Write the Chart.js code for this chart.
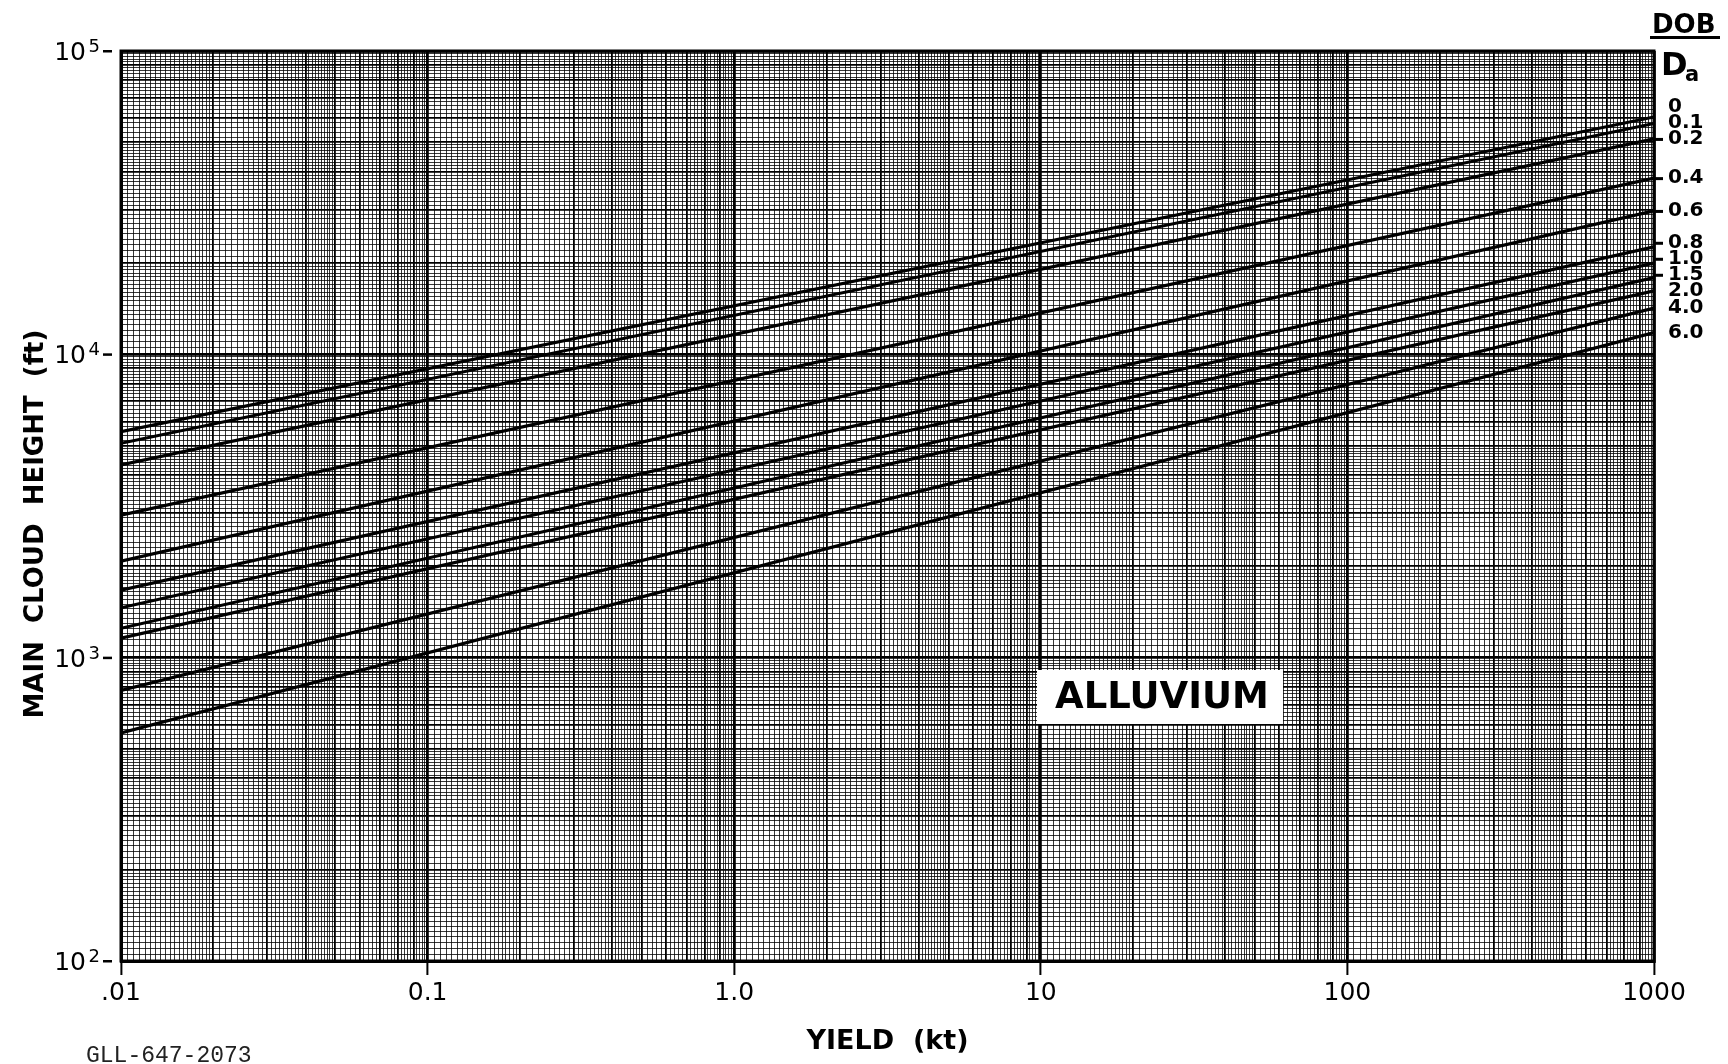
<!DOCTYPE html>
<html><head><meta charset="utf-8">
<script src="https://cdn.jsdelivr.net/npm/chart.js@4.4.1/dist/chart.umd.min.js"></script>
<style>html,body{margin:0;padding:0;background:#fff;overflow:hidden}canvas{display:block}</style>
</head><body>
<canvas id="c" width="1728" height="1064"></canvas>
<script>
// ---- data ----
const dobRatios = ["0", "0.1", "0.2", "0.4", "0.6", "0.8", "1.0", "1.5", "2.0", "4.0", "6.0"];
const yieldEnds = [0.01, 1000];                       // kt
const heightAtLowYield  = [5560, 5090, 4320, 2950, 2080, 1670, 1460, 1250, 1160, 780, 565];      // ft at 0.01 kt
const heightAtHighYield = [60600, 57700, 51300, 38100, 29700, 22600, 20000, 17900, 16200, 14200, 11800]; // ft at 1000 kt
const leaderMark = [false, false, true, true, true, true, true, true, false, false, false];
const xTickLabels = {"0.01": ".01", "0.1": "0.1", "1": "1.0", "10": "10", "100": "100", "1000": "1000"};
const yDecades = [100, 1000, 10000, 100000];
const yDecadeExponents = ["2", "3", "4", "5"];

// ---- log graph-paper rulings ----
function paperTicks(minExp, maxExp) {
  const out = [];
  for (let k = minExp; k < maxExp; k++) {
    const b = Math.pow(10, k);
    const ms = [];
    for (let i = 100; i < 200; i += 5) ms.push(i);
    for (let i = 200; i < 500; i += 10) ms.push(i);
    for (let i = 500; i < 1000; i += 20) ms.push(i);
    ms.forEach(i => out.push(Number((i * b / 100).toPrecision(10))));
  }
  out.push(Math.pow(10, maxExp));
  return out.map(v => ({value: v}));
}
function ruleKind(v) {
  const lg = Math.log10(v);
  if (Math.abs(lg - Math.round(lg)) < 1e-9) return 'decade';
  const m = v / Math.pow(10, Math.floor(lg + 1e-9));
  if (Math.abs(m - Math.round(m)) < 1e-6) return 'unit';
  return 'fine';
}
const gridColor = ctx => {
  const t = ctx.tick; if (!t) return '#000';
  return ruleKind(t.value) === 'fine' ? 'rgba(0,0,0,0.78)' : '#000';
};
const gridWidth = ctx => {
  const t = ctx.tick; if (!t) return 1;
  const k = ruleKind(t.value);
  return k === 'decade' ? 2.8 : (k === 'unit' ? 1.8 : 1);
};

const datasets = dobRatios.map((r, i) => ({
  label: r,
  data: [{x: yieldEnds[0], y: heightAtLowYield[i]}, {x: yieldEnds[1], y: heightAtHighYield[i]}],
  borderColor: '#000', borderWidth: 3.2, pointRadius: 0, tension: 0, fill: false
}));

const decor = {
  id: 'decor',
  afterDraw(chart) {
    const ctx = chart.ctx, ca = chart.chartArea, ys = chart.scales.y;
    ctx.save();
    // frame
    ctx.strokeStyle = '#000'; ctx.lineWidth = 3;
    ctx.strokeRect(ca.left, ca.top, ca.right - ca.left, ca.bottom - ca.top);
    // y decade labels 10^n with tick dash
    ctx.fillStyle = '#000';
    ctx.textBaseline = 'alphabetic';
    yDecades.forEach((v, i) => {
      const y = ys.getPixelForValue(v);
      ctx.textAlign = 'right';
      ctx.font = '18px "DejaVu Sans"';
      ctx.fillText(yDecadeExponents[i], 100, y + 1);
      ctx.font = '25px "DejaVu Sans"';
      ctx.fillText('10', 86, y + 9);
      ctx.fillRect(103, y - 1, 9, 2.5);
    });
    // ALLUVIUM panel
    ctx.fillStyle = '#fff';
    ctx.fillRect(1037, 670, 246, 54);
    ctx.fillStyle = '#000';
    ctx.font = 'bold 37px "DejaVu Sans"';
    ctx.textAlign = 'center'; ctx.textBaseline = 'middle';
    ctx.fillText('ALLUVIUM', 1162, 698);
    // DOB / Da header
    ctx.textAlign = 'left'; ctx.textBaseline = 'alphabetic';
    ctx.font = 'bold 26px "DejaVu Sans"';
    ctx.fillText('DOB', 1652, 33);
    ctx.fillRect(1650, 36, 70, 3);
    ctx.font = 'bold 32px "DejaVu Sans"';
    ctx.fillText('D', 1661, 75);
    ctx.font = 'bold 21px "DejaVu Sans"';
    ctx.fillText('a', 1685, 81);
    // series labels at right end, spread to avoid overlap
    const pos = heightAtHighYield.map(v => ys.getPixelForValue(v));
    for (let i = pos.length - 2; i >= 0; i--) pos[i] = Math.min(pos[i], pos[i + 1] - 16);
    ctx.font = 'bold 20px "DejaVu Sans"';
    ctx.textBaseline = 'middle';
    dobRatios.forEach((r, i) => {
      ctx.fillText(r, 1668, pos[i]);
      if (leaderMark[i]) ctx.fillRect(1655, pos[i] - 1, 8, 3);
    });
    // drawing number
    ctx.font = '23px "Liberation Mono"';
    ctx.fillStyle = '#222';
    ctx.textBaseline = 'alphabetic';
    ctx.textAlign = 'left';
    ctx.fillText('GLL-647-2073', 86, 1062);
    ctx.restore();
  }
};

new Chart(document.getElementById('c'), {
  type: 'line',
  data: {datasets},
  options: {
    responsive: false, animation: false,
    layout: {padding: {left: 0, top: 51, right: 74, bottom: 0}},
    plugins: {legend: {display: false}, tooltip: {enabled: false}},
    scales: {
      x: {
        type: 'logarithmic', min: 0.01, max: 1000,
        afterBuildTicks: s => { s.ticks = paperTicks(-2, 3); },
        afterFit: s => { s.height = 103; },
        grid: {color: gridColor, lineWidth: gridWidth, drawTicks: true, tickLength: 14,
               tickColor: ctx => (ctx.tick && ruleKind(ctx.tick.value) === 'decade') ? '#000' : 'rgba(0,0,0,0)', tickWidth: 2},
        border: {display: true, color: '#000', width: 3},
        ticks: {autoSkip: false, maxRotation: 0, minRotation: 0, padding: 3, color: '#000',
                font: {family: 'DejaVu Sans', size: 25},
                callback: v => xTickLabels[String(v)] || ''},
        title: {display: true, text: 'YIELD  (kt)', color: '#000',
                font: {family: 'DejaVu Sans', size: 27, weight: 'bold', lineHeight: 1}, padding: {top: 0, bottom: 9}}
      },
      y: {
        type: 'logarithmic', min: 100, max: 100000,
        afterBuildTicks: s => { s.ticks = paperTicks(2, 5); },
        afterFit: s => { s.width = 121; },
        grid: {color: gridColor, lineWidth: gridWidth, drawTicks: false},
        border: {display: true, color: '#000', width: 3},
        ticks: {autoSkip: false, padding: 6, color: '#000', font: {family: 'DejaVu Sans', size: 25},
                callback: () => ''},
        title: {display: true, text: 'MAIN  CLOUD  HEIGHT  (ft)\u00a0\u00a0\u00a0\u00a0', color: '#000',
                font: {family: 'DejaVu Sans', size: 26, weight: 'bold', lineHeight: 1}, padding: {top: 23, bottom: 0}}
      }
    }
  },
  plugins: [decor]
});
</script>
</body></html>
